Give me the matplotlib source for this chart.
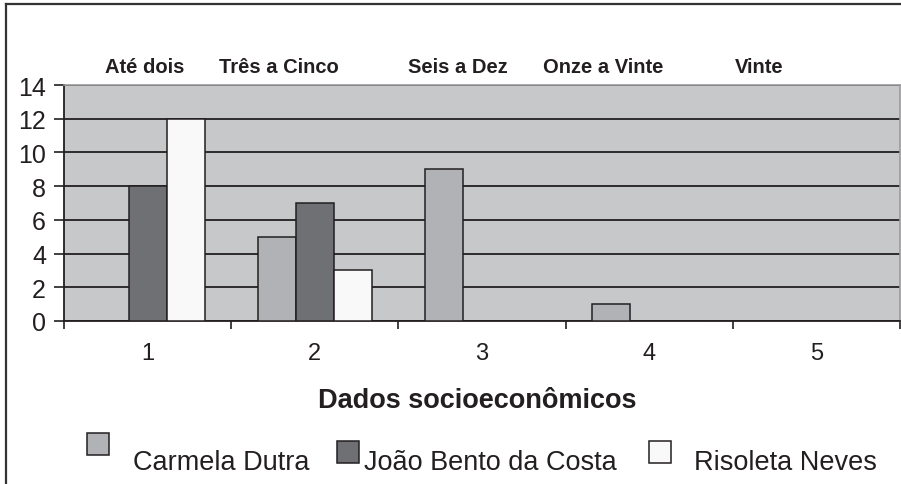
import matplotlib.pyplot as plt
import numpy as np
from matplotlib.patches import Rectangle
from matplotlib.lines import Line2D

plt.rcParams['font.family'] = ['Liberation Sans', 'DejaVu Sans']

# data
categories = [1, 2, 3, 4, 5]
top_labels = ["Até dois", "Três a Cinco", "Seis a Dez", "Onze a Vinte", "Vinte"]
series_names = ["Carmela Dutra", "João Bento da Costa", "Risoleta Neves"]
carmela = [0, 5, 9, 1, 0]
joao = [8, 7, 0, 0, 0]
risoleta = [12, 3, 0, 0, 0]
y_ticks = [0, 2, 4, 6, 8, 10, 12, 14]

colors = ["#B1B2B5", "#6F7073", "#F9F9F9"]
ink = "#231F20"
W, H = 901, 485

fig = plt.figure(figsize=(9.01, 4.85), dpi=100)
ax = fig.add_axes([64 / W, 1 - 322 / H, (900 - 64) / W, (322 - 86) / H])
ax.set_facecolor("#C7C8CA")

x = np.array(categories, dtype=float)
bw = 0.227
for i, vals in enumerate([carmela, joao, risoleta]):
    ax.bar(x + (i - 1) * bw, vals, width=bw, color=colors[i],
           edgecolor=ink, linewidth=1.1, zorder=3)

ax.set_xlim(0.5, 5.5)
ax.set_ylim(0, 14)
ax.set_yticks(y_ticks)
ax.set_xticks(categories)
ax.set_xticks(np.arange(0.5, 6, 1), minor=True)
ax.yaxis.grid(True, color=ink, linewidth=1.3, zorder=1)
ax.set_axisbelow(True)

ax.tick_params(axis='y', direction='out', length=7, width=1.2, color=ink,
               labelsize=18, labelcolor=ink, pad=6)
ax.tick_params(axis='x', which='major', length=0, labelsize=17,
               labelcolor=ink, pad=15)
ax.tick_params(axis='x', which='minor', direction='out', length=6,
               width=1.2, color=ink)

for s in ['left', 'bottom']:
    ax.spines[s].set_color(ink)
    ax.spines[s].set_linewidth(1.3)
for s in ['top', 'right']:
    ax.spines[s].set_color("#9A9A9C")
    ax.spines[s].set_linewidth(1.2)

# labels above the plot
label_x = [145, 279, 458, 603, 759]
for lx, txt in zip(label_x, top_labels):
    fig.text(lx / W, 1 - 73 / H, txt, ha='center', va='baseline',
             fontsize=14.5, fontweight='bold', color=ink)

fig.text(477 / W, 1 - 408 / H, "Dados socioeconômicos", ha='center',
         va='baseline', fontsize=19.5, fontweight='bold', color=ink)

# legend drawn by hand to match the layout
patch_boxes = [(87, 434), (337, 442), (649, 442)]
text_x = [133, 364, 694]
for (px, py), tx, name, c in zip(patch_boxes, text_x, series_names, colors):
    fig.add_artist(Rectangle((px / W, 1 - (py + 22) / H), 22 / W, 22 / H,
                             transform=fig.transFigure, facecolor=c,
                             edgecolor=ink, linewidth=1.1))
    fig.text(tx / W, 1 - 470 / H, name, ha='left', va='baseline',
             fontsize=19.5, color=ink)

# outer frame (top and left)
fig.add_artist(Line2D([6 / W, 1], [1 - 5 / H, 1 - 5 / H],
                      transform=fig.transFigure, color="#333333", linewidth=1.6))
fig.add_artist(Line2D([6 / W, 6 / W], [0, 1 - 5 / H],
                      transform=fig.transFigure, color="#333333", linewidth=1.6))

fig.savefig("out.png", dpi=100)
